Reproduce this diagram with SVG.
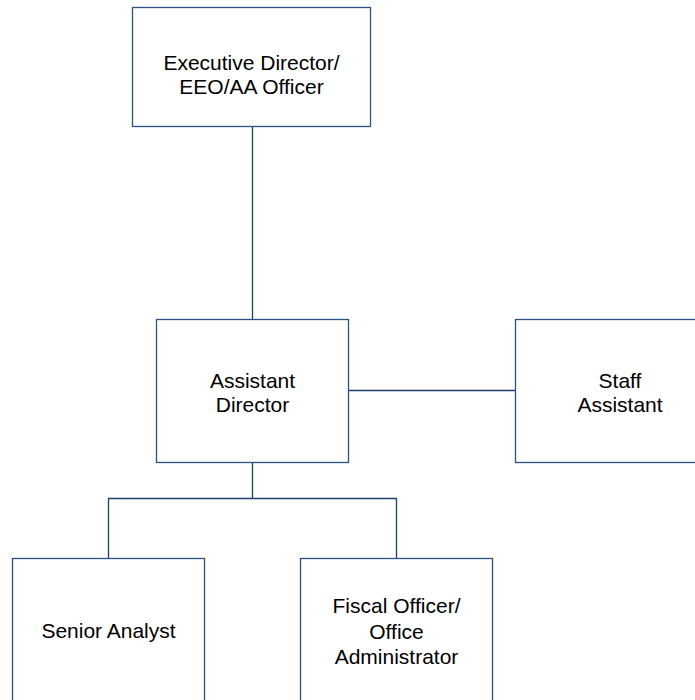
<svg xmlns="http://www.w3.org/2000/svg" width="695" height="700" viewBox="0 0 695 700">
<style>
.box{fill:#ffffff;stroke:#2b5283;stroke-width:1.3}
.conn{fill:none;stroke:#1f3f6e;stroke-width:1.3}
text{font-family:"Liberation Sans",Arial,sans-serif;font-size:21px;fill:#000000;text-anchor:middle}
</style>
<rect width="695" height="700" fill="#ffffff"/>
<g id="connectors">
<line class="conn" x1="252.5" y1="127" x2="252.5" y2="319.5"/>
<line class="conn" x1="348.5" y1="390.5" x2="515.5" y2="390.5"/>
<line class="conn" x1="252.5" y1="462.5" x2="252.5" y2="498.5"/>
<polyline class="conn" points="108.5,558.5 108.5,498.5 396.5,498.5 396.5,558.5"/>
</g>
<g id="executive-director">
<rect class="box" x="132.5" y="7.5" width="238" height="119"/>
<text x="251.5" y="70">Executive Director/</text>
<text x="251.5" y="94">EEO/AA Officer</text>
</g>
<g id="assistant-director">
<rect class="box" x="156.5" y="319.5" width="192" height="143"/>
<text x="252.5" y="388">Assistant</text>
<text x="252.5" y="412">Director</text>
</g>
<g id="staff-assistant">
<rect class="box" x="515.5" y="319.5" width="210" height="143"/>
<text x="620" y="388">Staff</text>
<text x="620" y="412">Assistant</text>
</g>
<g id="senior-analyst">
<rect class="box" x="12.5" y="558.5" width="192" height="160"/>
<text x="108.5" y="638">Senior Analyst</text>
</g>
<g id="fiscal-officer">
<rect class="box" x="300.5" y="558.5" width="192" height="160"/>
<text x="396.5" y="613">Fiscal Officer/</text>
<text x="396.5" y="639">Office</text>
<text x="396.5" y="664">Administrator</text>
</g>
</svg>
